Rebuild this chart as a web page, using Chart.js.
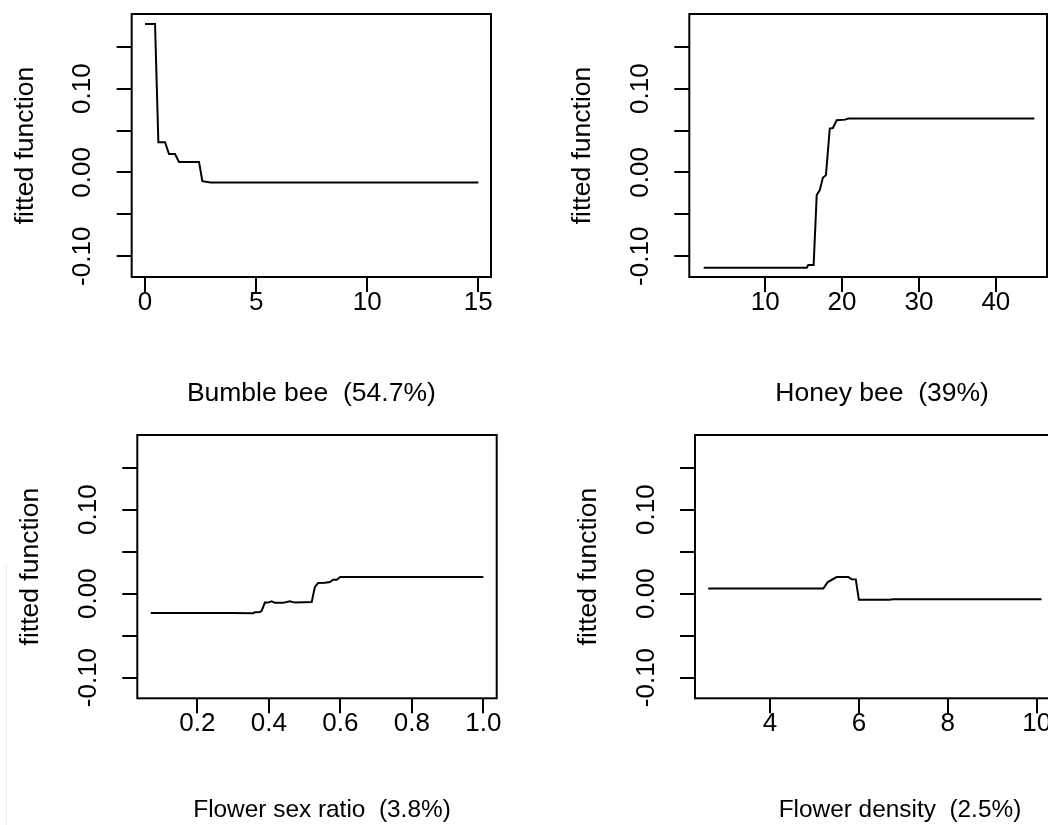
<!DOCTYPE html>
<html>
<head>
<meta charset="utf-8">
<script src="https://cdn.jsdelivr.net/npm/chart.js@4.4.1/dist/chart.umd.min.js"></script>
<style>
    html, body { margin: 0; padding: 0; background: #fff; }
    #page { position: relative; width: 1048px; height: 825px; overflow: hidden; background: #fff; }
    .panel { position: absolute; }
    #edge { position: absolute; left: 6px; top: 565px; width: 1px; height: 260px; background: #efefef; }
</style>
</head>
<body>
<div id="page">
    <canvas class="panel" id="bumble" width="524" height="420" style="left:0;top:0"></canvas>
    <canvas class="panel" id="honey" width="540" height="420" style="left:524px;top:0"></canvas>
    <canvas class="panel" id="sexratio" width="524" height="405" style="left:0;top:420px"></canvas>
    <canvas class="panel" id="density" width="540" height="405" style="left:524px;top:420px"></canvas>
    <div id="edge"></div>
</div>
<script>
// shared y axis (fitted function)
const Y_TICKS = [-0.10, -0.05, 0, 0.05, 0.10, 0.15];
const Y_LABEL_VALUES = [-0.10, 0, 0.10];
const Y_LABELS = ["-0.10", "0.00", "0.10"];
const Y_MIN = -0.1247;
const Y_MAX = 0.189;

// Bumble bee (54.7%)
const bumbleX = [0, 0.45, 0.6, 0.9, 1.08, 1.35, 1.53, 2.43, 2.58, 2.95, 15];
const bumbleY = [0.177, 0.177, 0.036, 0.036, 0.022, 0.022, 0.0126, 0.0126, -0.0104, -0.012, -0.012];
const bumbleTicks = [0, 5, 10, 15];
const bumbleTickLabels = ["0", "5", "10", "15"];

// Honey bee (39%)
const honeyX = [2, 15.4, 15.6, 16.3, 16.7, 17.1, 17.5, 17.9, 18.4, 18.8, 19.3, 20.4, 20.8, 45];
const honeyY = [-0.1136, -0.1136, -0.1104, -0.1104, -0.027, -0.021, -0.0064, -0.0032, 0.0524, 0.053, 0.0623, 0.063, 0.0643, 0.0643];
const honeyTicks = [10, 20, 30, 40];
const honeyTickLabels = ["10", "20", "30", "40"];

// Flower sex ratio (3.8%)
const sexX = [0.07, 0.296, 0.355, 0.361, 0.375, 0.38, 0.389, 0.398, 0.408, 0.417, 0.44, 0.459, 0.473, 0.52, 0.529, 0.538, 0.557, 0.571, 0.58, 0.59, 0.6, 1.0];
const sexY = [-0.0231, -0.0231, -0.0235, -0.0222, -0.022, -0.0206, -0.0107, -0.0107, -0.0092, -0.011, -0.011, -0.0092, -0.0107, -0.01, 0.0079, 0.0127, 0.013, 0.0139, 0.0166, 0.0166, 0.0198, 0.0198];
const sexTicks = [0.2, 0.4, 0.6, 0.8, 1.0];
const sexTickLabels = ["0.2", "0.4", "0.6", "0.8", "1.0"];

// Flower density (2.5%)
const densityX = [2.61, 4.98, 5.2, 5.3, 5.5, 5.76, 5.84, 5.93, 6.0, 6.69, 6.77, 10.11];
const densityY = [0.006, 0.006, 0.006, 0.0138, 0.0198, 0.0198, 0.0171, 0.017, -0.0072, -0.0072, -0.0068, -0.0068];
const densityTicks = [4, 6, 8, 10];
const densityTickLabels = ["4", "6", "8", "10"];

const FONT = "'Liberation Sans', Arial, sans-serif";
const TICK_SIZE = 26;
const TITLE_SIZE = 26.5;
const X_AXIS_H = 60;

Chart.defaults.font.family = FONT;
Chart.defaults.color = "#000";

// R style box, rotated y labels and axis titles
const rPlot = {
    id: "rPlot",
    afterDraw(chart, args, opts) {
        const ctx = chart.ctx;
        const a = chart.chartArea;
        const yScale = chart.scales.y;
        ctx.save();
        ctx.strokeStyle = "#000";
        ctx.lineWidth = 2;
        ctx.strokeRect(a.left, a.top, a.right - a.left, a.bottom - a.top);

        ctx.fillStyle = "#000";
        ctx.textAlign = "center";
        ctx.textBaseline = "alphabetic";
        ctx.font = TICK_SIZE + "px " + FONT;
        for (let i = 0; i < Y_LABELS.length; i++) {
            const y = yScale.getPixelForValue(Y_LABEL_VALUES[i]);
            ctx.save();
            ctx.translate(a.left - 41.5, y);
            ctx.rotate(-Math.PI / 2);
            ctx.fillText(Y_LABELS[i], 0, 0);
            ctx.restore();
        }

        ctx.font = TITLE_SIZE + "px " + FONT;
        ctx.save();
        ctx.translate(a.left - 99, (a.top + a.bottom) / 2);
        ctx.rotate(-Math.PI / 2);
        ctx.fillText("fitted function", 0, 0);
        ctx.restore();

        ctx.font = opts.titleSize + "px " + FONT;
        ctx.fillText(opts.xTitle, (a.left + a.right) / 2 + opts.titleDx, a.bottom + opts.titleDy);
        ctx.restore();
    },
};

function createPanel(id, xs, ys, ticks, tickLabels, xMin, xMax, box, title) {
    const canvas = document.getElementById(id);
    const points = xs.map((x, i) => ({ x: x, y: ys[i] }));
    return new Chart(canvas, {
        type: "line",
        data: {
            datasets: [
                {
                    data: points,
                    borderColor: "#000",
                    borderWidth: 2,
                    pointRadius: 0,
                    tension: 0,
                    fill: false,
                },
            ],
        },
        options: {
            responsive: false,
            animation: false,
            events: [],
            layout: {
                padding: {
                    left: 0,
                    top: box.top,
                    right: canvas.width - box.right,
                    bottom: canvas.height - box.bottom - X_AXIS_H,
                },
            },
            plugins: {
                legend: { display: false },
                tooltip: { enabled: false },
                rPlot: {
                    xTitle: title.text,
                    titleDx: title.dx,
                    titleDy: title.dy,
                    titleSize: title.size,
                },
            },
            scales: {
                x: {
                    type: "linear",
                    min: xMin,
                    max: xMax,
                    bounds: "data",
                    afterBuildTicks: (s) => {
                        s.ticks = ticks.map((v) => ({ value: v }));
                    },
                    afterFit: (s) => {
                        s.height = X_AXIS_H;
                    },
                    border: { display: false },
                    grid: {
                        drawOnChartArea: false,
                        drawTicks: true,
                        tickLength: 15,
                        color: "#000",
                        lineWidth: 2,
                    },
                    ticks: {
                        autoSkip: false,
                        maxRotation: 0,
                        minRotation: 0,
                        padding: -2,
                        color: "#000",
                        font: { size: TICK_SIZE, lineHeight: 1 },
                        callback: (v, i) => tickLabels[i],
                    },
                },
                y: {
                    type: "linear",
                    min: Y_MIN,
                    max: Y_MAX,
                    bounds: "data",
                    afterBuildTicks: (s) => {
                        s.ticks = Y_TICKS.map((v) => ({ value: v }));
                    },
                    afterFit: (s) => {
                        s.width = box.left;
                    },
                    border: { display: false },
                    grid: {
                        drawOnChartArea: false,
                        drawTicks: true,
                        tickLength: 15,
                        color: "#000",
                        lineWidth: 2,
                    },
                    ticks: { display: false },
                },
            },
        },
        plugins: [rPlot],
    });
}

createPanel("bumble", bumbleX, bumbleY, bumbleTicks, bumbleTickLabels, -0.6, 15.57,
    { left: 131.7, top: 14, right: 491, bottom: 277 },
    { text: "Bumble bee  (54.7%)", dx: 0, dy: 124, size: TITLE_SIZE });

createPanel("honey", honeyX, honeyY, honeyTicks, honeyTickLabels, 0.13, 46.65,
    { left: 165.3, top: 14, right: 523, bottom: 277 },
    { text: "Honey bee  (39%)", dx: 14, dy: 124, size: TITLE_SIZE });

createPanel("sexratio", sexX, sexY, sexTicks, sexTickLabels, 0.0322, 1.0375,
    { left: 137.3, top: 15, right: 496.7, bottom: 278.3 },
    { text: "Flower sex ratio  (3.8%)", dx: 5, dy: 118.7, size: 24.4 });

createPanel("density", densityX, densityY, densityTicks, densityTickLabels, 2.313, 10.41,
    { left: 171, top: 15, right: 530.9, bottom: 278.3 },
    { text: "Flower density  (2.5%)", dx: 25, dy: 118.7, size: 24.4 });
</script>
</body>
</html>
